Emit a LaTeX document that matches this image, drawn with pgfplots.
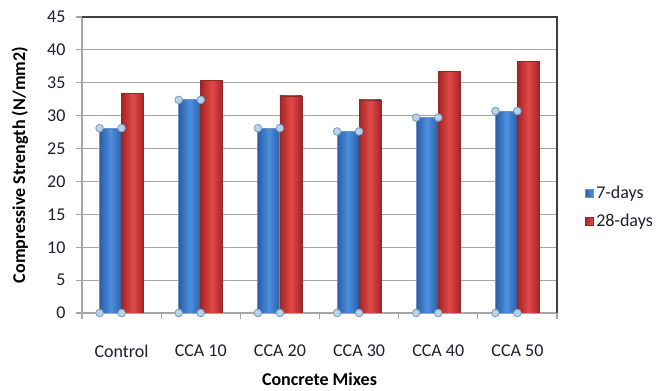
\documentclass[border=0pt]{standalone}
\usepackage{fontspec}
\setmainfont{Carlito}
\usepackage{pgfplots}
\usepackage{pgfplotstable}
\pgfplotsset{compat=1.18}

\definecolor{gridgray}{HTML}{A6A6A6}
\definecolor{framegray}{HTML}{404040}
\definecolor{blueedge}{HTML}{2A5EA6}
\definecolor{bluemid}{HTML}{4D90E0}
\definecolor{blueline}{HTML}{6F92BA}
\definecolor{rededge}{HTML}{A62424}
\definecolor{redmid}{HTML}{E24A4A}
\definecolor{redline}{HTML}{8E2A2A}
\definecolor{knobfill}{HTML}{B8D4E8}
\definecolor{knobline}{HTML}{7C9FC0}
\definecolor{labelcol}{HTML}{1E1E2E}

\newcommand{\chartfont}{\fontsize{18bp}{21bp}\selectfont}

% compressive strength (N/mm2) per mix
\pgfplotstableread{
x d7   d28
0 28.1 33.4
1 32.4 35.4
2 28.1 33.0
3 27.6 32.4
4 29.7 36.7
5 30.7 38.2
}\strength

\begin{document}
\begin{tikzpicture}
\path[use as bounding box] (0,0) rectangle (667bp,391bp);
\begin{axis}[
  at={(82bp,78bp)}, anchor=south west,
  scale only axis, width=475bp, height=296bp,
  xmin=-0.5, xmax=5.5, ymin=0, ymax=45,
  ytick={0,5,...,45},
  xtick={0,...,5},
  xticklabels={Control, CCA 10, CCA 20, CCA 30, CCA 40, CCA 50},
  minor xtick={-0.5,0.5,...,5.5},
  axis lines=left,
  axis line style={-, draw=gridgray, line width=1.2bp},
  tick align=outside,
  major tick length=6bp, minor tick length=6bp,
  x tick style={draw=none},
  minor x tick style={draw=gridgray, line width=1.2bp},
  y tick style={draw=gridgray, line width=1.2bp},
  ymajorgrids,
  grid style={draw=gridgray, line width=1.2bp},
  /pgf/number format/assume math mode=true,
  tick label style={font=\chartfont, text=labelcol},
  xticklabel style={anchor=center, yshift=-32bp},
  yticklabel style={anchor=east, xshift=-7bp},
  xlabel={\textbf{Concrete Mixes}},
  ylabel={\textbf{Compressive Strength (N/mm2)}},
  label style={font=\chartfont, text=black},
  xlabel style={at={(axis description cs:0.5,-0.224)}, anchor=center},
  ylabel style={at={(axis description cs:-0.1305,0.5)}, anchor=center},
  legend style={draw=none, fill=none, font=\chartfont, text=labelcol,
    at={(axis description cs:1.058,0.358)}, anchor=west,
    row sep=12bp, inner sep=0pt,
    nodes={inner xsep=3bp, inner ysep=1bp}},
  legend cell align=left,
  extra description/.code={
    \draw[framegray, line width=1.3bp]
      (rel axis cs:0,1) -- (rel axis cs:1,1) -- (rel axis cs:1,0);
  },
  blue bar/.style={ybar, bar width=22bp, bar shift=-11bp,
    draw=blueline, line width=1bp,
    left color=blueedge, right color=blueedge, middle color=bluemid},
  red bar/.style={ybar, bar width=22bp, bar shift=11bp,
    draw=redline, line width=0.6bp,
    left color=rededge, right color=rededge, middle color=redmid},
]
% one path per bar, so that each bar gets its own cylinder shading
\pgfplotsinvokeforeach{0,...,5}{
  \addplot[blue bar, forget plot, restrict x to domain=#1:#1]
    table[x=x, y=d7] {\strength};
  \addplot[red bar, forget plot, restrict x to domain=#1:#1]
    table[x=x, y=d28] {\strength};
}
\addlegendimage{legend image code/.code={
    \fill[left color=blueedge, right color=bluemid, draw=blueline, line width=0.5bp]
      (0bp,-4bp) rectangle (8bp,4bp);}}
\addlegendentry{7-days}
\addlegendimage{legend image code/.code={
    \fill[left color=rededge, right color=redmid, draw=redline, line width=0.5bp]
      (0bp,-4bp) rectangle (8bp,4bp);}}
\addlegendentry{28-days}
% corner handles of the 7-day bars
\pgfplotsset{knob/.style={only marks, mark=*, mark size=3.8bp,
  mark options={fill=knobfill, draw=knobline, line width=0.9bp}, forget plot}}
\addplot[knob] table[x expr=\thisrow{x}-0.278, y=d7] {\strength};
\addplot[knob] table[x=x, y=d7] {\strength};
\addplot[knob] table[x expr=\thisrow{x}-0.278, y expr=0] {\strength};
\addplot[knob] table[x=x, y expr=0] {\strength};
\end{axis}
\end{tikzpicture}
\end{document}
